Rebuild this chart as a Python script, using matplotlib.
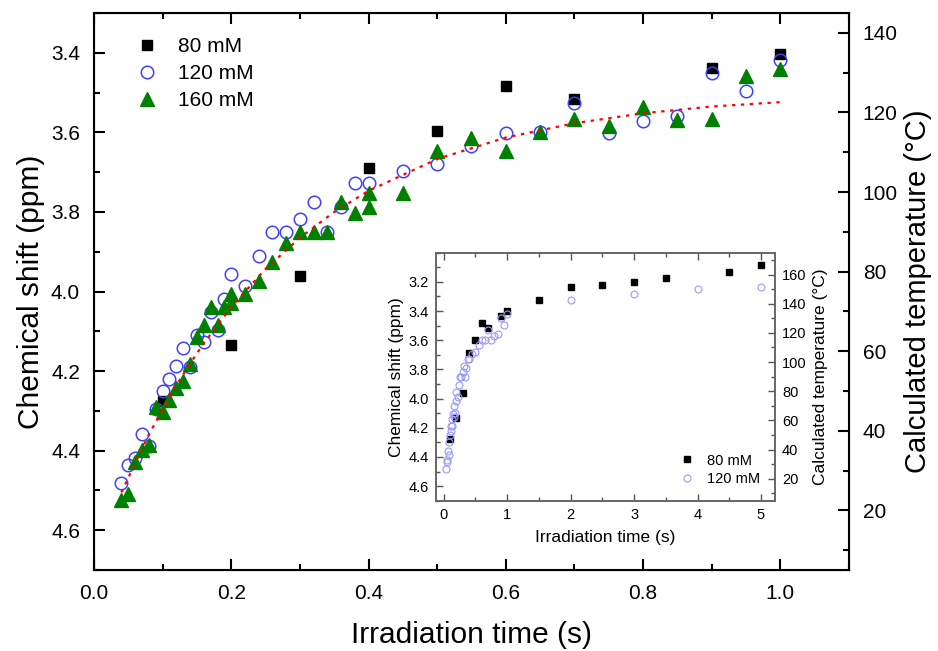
import matplotlib
matplotlib.use('Agg')
import matplotlib.pyplot as plt
from matplotlib.ticker import MultipleLocator, FixedLocator

plt.rcParams['font.family'] = ['Liberation Sans', 'DejaVu Sans']

# 80 mM (main plot uses t <= 1, inset shows all)
t_80 = [0.1, 0.2, 0.3, 0.4, 0.5, 0.6, 0.7, 0.9, 1.0, 1.5, 2.0, 2.5, 3.0, 3.5, 4.5, 5.0]
shift_80 = [4.275, 4.134, 3.96, 3.69, 3.597, 3.484, 3.516, 3.437, 3.402,
            3.325, 3.234, 3.223, 3.20, 3.177, 3.132, 3.086]

# 120 mM
t_120 = [0.04, 0.05, 0.06, 0.07, 0.08, 0.09, 0.10, 0.11, 0.12, 0.13, 0.14, 0.15,
         0.16, 0.17, 0.18, 0.19, 0.20, 0.22, 0.24, 0.26, 0.28, 0.30, 0.32, 0.34,
         0.36, 0.38, 0.40, 0.45, 0.50, 0.55, 0.60, 0.65, 0.70, 0.75, 0.80, 0.85,
         0.90, 0.95, 1.00, 2.0, 3.0, 4.0, 5.0]
shift_120 = [4.481, 4.435, 4.418, 4.357, 4.389, 4.296, 4.25, 4.219, 4.187, 4.141,
             4.189, 4.109, 4.126, 4.051, 4.097, 4.018, 3.957, 3.986, 3.910, 3.850,
             3.850, 3.818, 3.774, 3.85, 3.788, 3.726, 3.726, 3.696, 3.68, 3.634,
             3.602, 3.60, 3.527, 3.602, 3.571, 3.558, 3.45, 3.496, 3.419,
             3.325, 3.28, 3.25, 3.232]

# 160 mM
t_160 = [0.04, 0.05, 0.06, 0.07, 0.08, 0.09, 0.10, 0.11, 0.12, 0.13, 0.14, 0.15,
         0.16, 0.17, 0.18, 0.19, 0.20, 0.20, 0.22, 0.24, 0.26, 0.28, 0.30, 0.32,
         0.34, 0.36, 0.38, 0.40, 0.40, 0.45, 0.50, 0.55, 0.60, 0.65, 0.70, 0.75,
         0.80, 0.85, 0.90, 0.95, 1.00]
shift_160 = [4.523, 4.508, 4.428, 4.399, 4.385, 4.29, 4.303, 4.273, 4.242, 4.225,
             4.181, 4.115, 4.084, 4.038, 4.084, 4.038, 4.007, 4.03, 4.007, 3.974,
             3.927, 3.879, 3.85, 3.85, 3.85, 3.774, 3.802, 3.753, 3.787, 3.753,
             3.647, 3.615, 3.647, 3.598, 3.567, 3.584, 3.535, 3.569, 3.567,
             3.458, 3.441]

# fitted curve
t_fit = [0.04, 0.06, 0.08, 0.10, 0.12, 0.14, 0.16, 0.20, 0.25, 0.30, 0.35, 0.40,
         0.50, 0.60, 0.70, 0.80, 0.90, 1.00]
shift_fit = [4.505, 4.431, 4.360, 4.296, 4.236, 4.181, 4.130, 4.039, 3.943, 3.865,
             3.800, 3.747, 3.667, 3.613, 3.577, 3.552, 3.535, 3.524]

inset_yticks = [3.2, 3.4, 3.6, 3.8, 4.0, 4.2, 4.4, 4.6]

# calculated temperature = T0 - k * shift
T0 = 475.0
k = 100.0

fig = plt.figure(figsize=(9.38, 6.51), dpi=100)
ax = fig.add_axes([0.1002, 0.1244, 0.8049, 0.8556])

ax.plot(t_80, shift_80, 's', color='black', ms=7.5, label='80 mM', zorder=3)
ax.plot(t_120, shift_120, 'o', mfc='none', mec='#4040ff', mew=1.1, ms=9, label='120 mM', zorder=4)
ax.plot(t_160, shift_160, '^', color='#008000', ms=10, label='160 mM', zorder=5)
ax.plot(t_fit, shift_fit, color='red', lw=1.6, linestyle=(0, (1.5, 2.5)), zorder=6)

ax.set_xlim(0, 1.1)
ax.set_ylim(4.7, 3.3)
ax.xaxis.set_major_locator(MultipleLocator(0.2))
ax.xaxis.set_minor_locator(MultipleLocator(0.1))
ax.yaxis.set_major_locator(MultipleLocator(0.2))
ax.yaxis.set_minor_locator(MultipleLocator(0.1))
ax.tick_params(which='both', direction='in', top=True, right=False, width=1.5, labelsize=15, pad=10)
ax.tick_params(which='major', length=8)
ax.tick_params(which='minor', length=4.5)
for s in ax.spines.values():
    s.set_linewidth(1.5)
ax.set_xlabel('Irradiation time (s)', fontsize=21.5, labelpad=13)
ax.set_ylabel('Chemical shift (ppm)', fontsize=21.5, labelpad=4)

ax.legend(loc='upper left', bbox_to_anchor=(0.056, 0.957), frameon=False, fontsize=15,
          handlelength=1, handletextpad=1.0, labelspacing=0.38, borderpad=0, borderaxespad=0)

ax2 = ax.twinx()
ax2.set_ylim(T0 - k * 4.7, T0 - k * 3.3)
ax2.yaxis.set_major_locator(MultipleLocator(20))
ax2.yaxis.set_minor_locator(MultipleLocator(10))
ax2.tick_params(which='both', direction='in', width=1.5, labelsize=15, pad=10)
ax2.tick_params(which='major', length=8)
ax2.tick_params(which='minor', length=4.5)
ax2.set_ylabel('Calculated temperature (\u00b0C)', fontsize=21, labelpad=4)

# inset
ins = fig.add_axes([0.4648, 0.2309, 0.3614, 0.381])
ins.plot(t_80, shift_80, 's', color='black', ms=4.2, label='80 mM')
ins.plot(t_120, shift_120, 'o', mfc='none', mec='#9999ff', mew=0.8, ms=5, label='120 mM')
ins.set_xlim(-0.12, 5.22)
ins.set_ylim(4.7, 3.0)
ins.xaxis.set_major_locator(MultipleLocator(1))
ins.xaxis.set_minor_locator(MultipleLocator(0.5))
ins.yaxis.set_major_locator(FixedLocator(inset_yticks))
ins.yaxis.set_minor_locator(MultipleLocator(0.1))
ins.tick_params(which='both', direction='in', top=True, right=False, width=1, color='#555555',
                labelsize=10.5, pad=5)
ins.tick_params(which='major', length=5)
ins.tick_params(which='minor', length=3)
for s in ins.spines.values():
    s.set_linewidth(1.2)
    s.set_color('#666666')
ins.set_xlabel('Irradiation time (s)', fontsize=12.5, labelpad=6)
ins.set_ylabel('Chemical shift (ppm)', fontsize=12.5, labelpad=3)
ins.legend(loc='upper left', bbox_to_anchor=(0.718, 0.19), frameon=False, fontsize=10.5,
           handlelength=1, handletextpad=0.9, labelspacing=0.3, borderpad=0, borderaxespad=0)

ins2 = ins.twinx()
ins2.set_ylim(T0 - k * 4.7, T0 - k * 3.0)
ins2.yaxis.set_major_locator(MultipleLocator(20))
ins2.yaxis.set_minor_locator(MultipleLocator(10))
ins2.tick_params(which='both', direction='in', width=1, color='#555555', labelsize=10.5, pad=5)
ins2.tick_params(which='major', length=5)
ins2.tick_params(which='minor', length=3)
for s in ins2.spines.values():
    s.set_linewidth(1.2)
    s.set_color('#666666')
ins2.set_ylabel('Calculated temperature (\u00b0C)', fontsize=12.5, labelpad=5)

fig.savefig('out.png', dpi=100)
